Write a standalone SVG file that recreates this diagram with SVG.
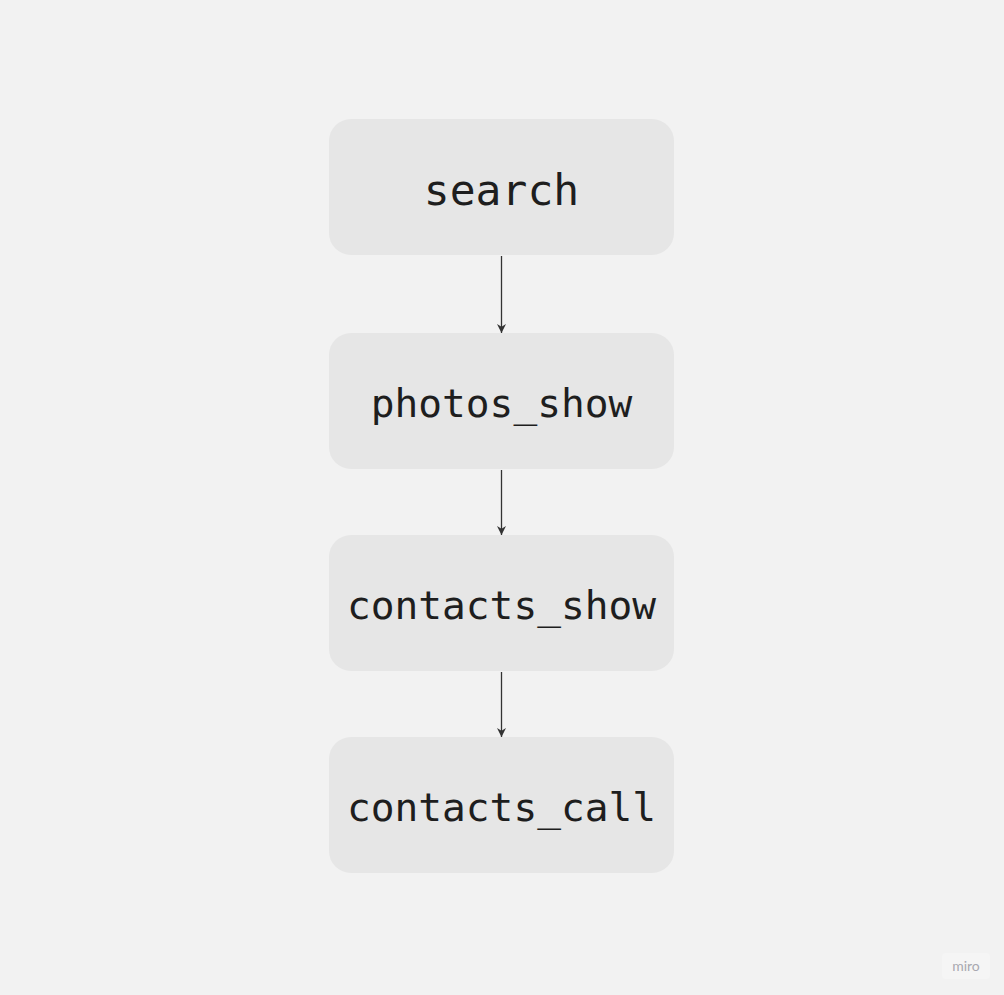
<svg xmlns="http://www.w3.org/2000/svg" width="1004" height="995" viewBox="0 0 1004 995">
<style>
.node rect{fill:#e6e6e6}
.node text{font-family:"DejaVu Sans Mono","Liberation Mono",monospace;font-size:39.5px;fill:#1e1e1e;text-anchor:middle}
.edge{stroke:#333;stroke-width:1.3;fill:none;marker-end:url(#ah)}
</style>
<defs>
<marker id="ah" viewBox="0 0 10 10" refX="10" refY="5" markerWidth="9" markerHeight="9" markerUnits="userSpaceOnUse" orient="auto">
<path d="M0,0 L10,5 L0,10 L3,5 Z" fill="#333"/>
</marker>
</defs>
<rect width="1004" height="995" fill="#f2f2f2"/>
<g id="n-search" class="node"><rect x="329" y="119" width="345" height="136" rx="22"/><text x="501.5" y="205" style="font-size:43px">search</text></g>
<g id="n-photos_show" class="node"><rect x="329" y="333" width="345" height="136" rx="22"/><text x="501.5" y="417">photos_show</text></g>
<g id="n-contacts_show" class="node"><rect x="329" y="535" width="345" height="136" rx="22"/><text x="501.5" y="619">contacts_show</text></g>
<g id="n-contacts_call" class="node"><rect x="329" y="737" width="345" height="136" rx="22"/><text x="501.5" y="821">contacts_call</text></g>
<g id="connectors">
<line class="edge" x1="501.5" y1="256" x2="501.5" y2="333"/>
<line class="edge" x1="501.5" y1="470" x2="501.5" y2="535"/>
<line class="edge" x1="501.5" y1="672" x2="501.5" y2="737"/>
</g>
<g id="badge"><rect x="942" y="953" width="48" height="26" rx="4" fill="#f5f5f5"/><text x="966" y="971" font-family="Lato,'Liberation Sans',sans-serif" font-size="14" fill="#a8a8b0" text-anchor="middle">miro</text></g>
</svg>
